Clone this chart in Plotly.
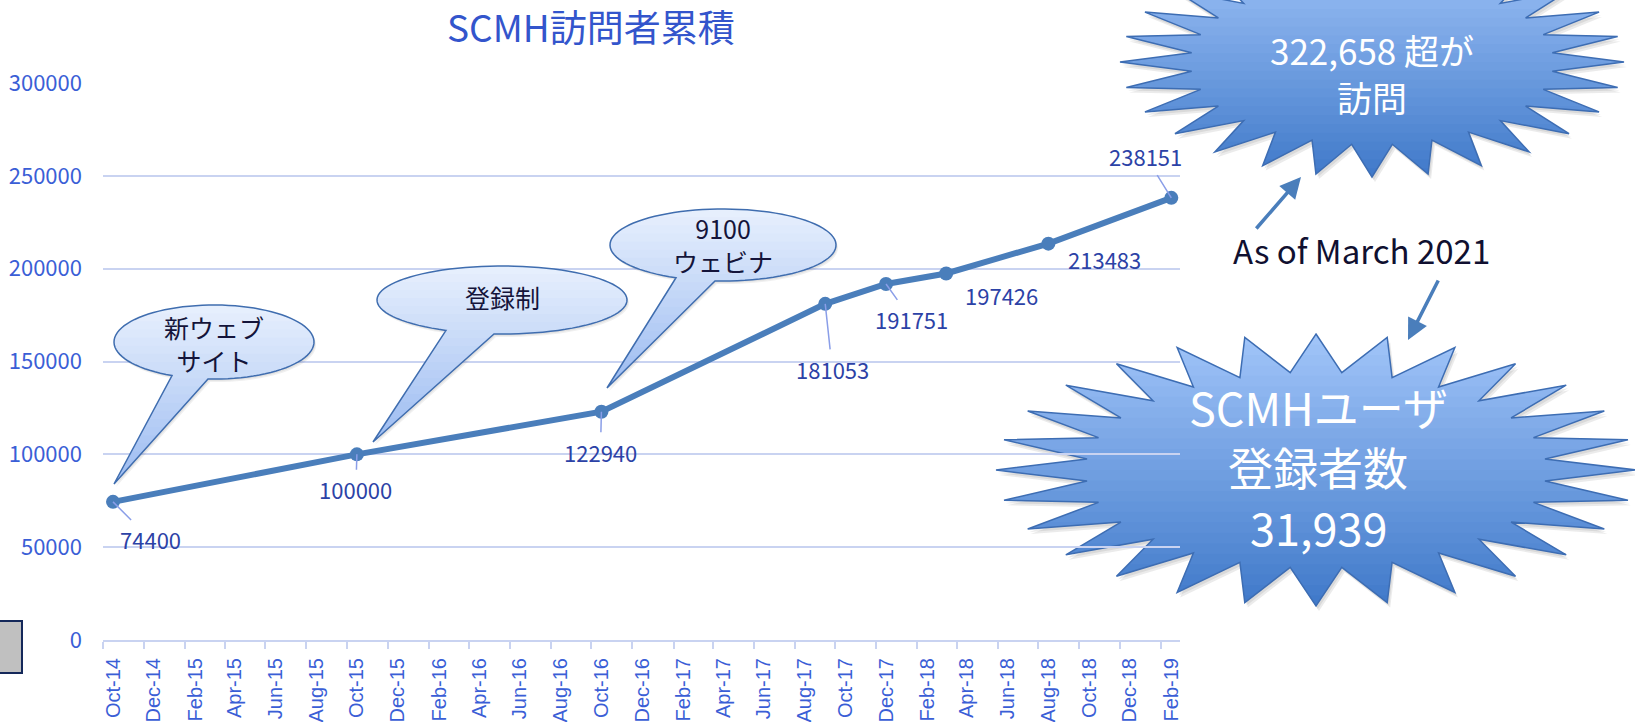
import numpy as np
import pandas as pd
import plotly.graph_objects as go

# ---------------- data ----------------
months = ["2014-10", "2015-10", "2016-10", "2017-09", "2017-12", "2018-03", "2018-08", "2019-02"]
visitors = [74400, 100000, 122940, 181053, 191751, 197426, 213483, 238151]
tick_labels = ["Oct-14", "Dec-14", "Feb-15", "Apr-15", "Jun-15", "Aug-15", "Oct-15", "Dec-15",
               "Feb-16", "Apr-16", "Jun-16", "Aug-16", "Oct-16", "Dec-16", "Feb-17", "Apr-17",
               "Jun-17", "Aug-17", "Oct-17", "Dec-17", "Feb-18", "Apr-18", "Jun-18", "Aug-18",
               "Oct-18", "Dec-18", "Feb-19"]
y_ticks = [0, 50000, 100000, 150000, 200000, 250000, 300000]
title_text = "SCMH訪問者累積"
callout_texts = ["新ウェブ<br>サイト", "登録制", "9100<br>ウェビナ"]
star_lines = [["322,658 超が", "訪問"], ["SCMHユーザ", "登録者数", "31,939"]]
note_text = "As of March 2021"

# ---------------- layout geometry (pixels) ----------------
FW, FH = 1635, 722
L, T, W, H = 103, 83, 1077, 557
FONT = "Noto Sans CJK JP"
TICK_C = "#3A5ED6"
LAB_C = "#2C42A6"
GRID_C = "#C9D3F1"
LINE_C = "#4A7EBB"


def px(x):
    return (x - L) / W


def py(y):
    return (T + H - y) / H


def path_of(pts):
    return "M " + " L ".join(f"{px(x):.5f},{py(y):.5f}" for x, y in pts) + " Z"


def clip_half(poly, keep, inter):
    out = []
    n = len(poly)
    for i in range(n):
        cur = poly[i]
        prev = poly[i - 1]
        if keep(cur):
            if not keep(prev):
                out.append(inter(prev, cur))
            out.append(cur)
        elif keep(prev):
            out.append(inter(prev, cur))
    return out


def clip_slab(poly, y0, y1):
    def inter_y(yc):
        def f(a, b):
            t = (yc - a[1]) / (b[1] - a[1])
            return (a[0] + t * (b[0] - a[0]), yc)
        return f
    p = clip_half(poly, lambda q: q[1] >= y0, inter_y(y0))
    if not p:
        return p
    return clip_half(p, lambda q: q[1] <= y1, inter_y(y1))


def hex2rgb(h):
    h = h.lstrip("#")
    return tuple(int(h[i:i + 2], 16) for i in (0, 2, 4))


def lerp(c1, c2, t):
    a, b = hex2rgb(c1), hex2rgb(c2)
    return "rgb(%d,%d,%d)" % tuple(round(a[i] + (b[i] - a[i]) * t) for i in range(3))


shapes = []


def gradient_shape(pts, c_top, c_bot, outline, lw, layer, bands=26, shadow=(3, 5, 0.10)):
    ys = [p[1] for p in pts]
    ymin, ymax = min(ys), max(ys)
    if shadow:
        dx, dy, a = shadow
        for f in (1.0, 0.6):
            sp = [(x + dx * f, y + dy * f) for x, y in pts]
            shapes.append(dict(type="path", xref="paper", yref="paper", path=path_of(sp),
                               fillcolor=f"rgba(60,60,60,{a})", line=dict(width=0), layer=layer))
    h = (ymax - ymin) / bands
    for i in range(bands):
        ya = ymin + i * h
        yb = ya + h + 0.9
        poly = clip_slab(pts, ya, yb)
        if len(poly) < 3:
            continue
        shapes.append(dict(type="path", xref="paper", yref="paper", path=path_of(poly),
                           fillcolor=lerp(c_top, c_bot, (i + 0.5) / bands),
                           line=dict(width=0), layer=layer))
    shapes.append(dict(type="path", xref="paper", yref="paper", path=path_of(pts),
                       fillcolor="rgba(0,0,0,0)", line=dict(color=outline, width=lw), layer=layer))


def star(cx, cy, rx, ry, n, inner):
    pts = []
    for k in range(2 * n):
        ang = -np.pi / 2 + k * np.pi / n
        r = 1.0 if k % 2 == 0 else inner
        pts.append((cx + rx * r * np.cos(ang), cy + ry * r * np.sin(ang)))
    return pts


def bubble(cx, cy, rx, ry, bx1, bx2, tip, n=90):
    th1 = np.arccos(np.clip((bx1 - cx) / rx, -1, 1))
    th2 = np.arccos(np.clip((bx2 - cx) / rx, -1, 1))
    ts = np.linspace(th1, th2 + 2 * np.pi, n)
    pts = [(cx + rx * np.cos(t), cy + ry * np.sin(t)) for t in ts]
    pts.append(tip)
    return pts


# starbursts (behind the grid)
gradient_shape(star(1372, 62, 252, 115, 28, 0.72), "#A2C5F9", "#3F79C9", "#3D6DB3", 1.5, "below")
gradient_shape(star(1316, 470, 320, 136, 28, 0.72), "#A2C5F9", "#3F79C9", "#3D6DB3", 1.5, "below")

# speech-bubble callouts
bubble_geo = [
    (214, 342, 100, 37, 172, 208, (114, 484)),
    (502, 300, 125, 34, 446, 494, (373, 442)),
    (723, 245, 113, 36, 676, 715, (607, 388)),
]
for g in bubble_geo:
    gradient_shape(bubble(*g), "#E8F0FD", "#9BBBF1", "#3F6DAF", 1.5, "above", bands=22,
                   shadow=(2, 3, 0.08))

# gray box at bottom-left
shapes.append(dict(type="rect", xref="paper", yref="paper", x0=px(-6), x1=px(22), y0=py(673), y1=py(621),
                   fillcolor="#C0C0C0", line=dict(color="#14285A", width=2), layer="above"))

# ---------------- figure ----------------
xdates = pd.to_datetime(months) + pd.Timedelta(days=15)
tickvals = pd.to_datetime(tick_labels, format="%b-%y") + pd.Timedelta(days=15)

fig = go.Figure()
fig.add_trace(go.Scatter(x=xdates, y=visitors, mode="lines+markers",
                         line=dict(color=LINE_C, width=6),
                         marker=dict(size=14, color=LINE_C), hoverinfo="x+y", showlegend=False))

annotations = []
label_pos = [(37, 37, True), (-1, 35, True), (-1, 40, True), (7, 65, True),
             (25, 35, True), (55, 22, False), (56, 15, False), (-26, -42, True)]
for xd, v, (dx, dy, lead) in zip(xdates, visitors, label_pos):
    if lead:
        annotations.append(dict(x=xd, y=v, xref="x", yref="y", text=str(v), showarrow=True,
                                ax=dx, ay=dy, arrowhead=0, arrowwidth=1.5, arrowcolor="#8A9EE8",
                                standoff=0, startstandoff=2,
                                font=dict(family=FONT, size=22, color=LAB_C)))
    else:
        annotations.append(dict(x=xd, y=v, xref="x", yref="y", text=str(v), showarrow=False,
                                xshift=dx, yshift=-dy,
                                font=dict(family=FONT, size=22, color=LAB_C)))

# title
annotations.append(dict(x=px(591), y=py(26), xref="paper", yref="paper", text=title_text,
                        showarrow=False, font=dict(family=FONT, size=37, color="#3355CC"),
                        xanchor="center", yanchor="middle"))
# callout texts
for (cx, cy), t in zip([(214, 343), (502, 297), (723, 244)], callout_texts):
    annotations.append(dict(x=px(cx), y=py(cy), xref="paper", yref="paper", text=t, showarrow=False,
                            font=dict(family=FONT, size=25, color="#14143A"),
                            xanchor="center", yanchor="middle"))
# starburst texts, one annotation per line
for (cx, ys, size), lines in zip([(1372, (49, 96), 35), (1318, (406, 466, 526), 45)], star_lines):
    for yy, t in zip(ys, lines):
        annotations.append(dict(x=px(cx), y=py(yy), xref="paper", yref="paper", text=t,
                                showarrow=False, font=dict(family=FONT, size=size, color="white"),
                                xanchor="center", yanchor="middle"))
# note + arrows
annotations.append(dict(x=px(1361), y=py(250), xref="paper", yref="paper", text=note_text,
                        showarrow=False, font=dict(family=FONT, size=33, color="#101030"),
                        xanchor="center", yanchor="middle"))
for (tx, ty), (sx, sy) in [((1301, 177), (1255, 230)), ((1408, 340), (1439, 279))]:
    annotations.append(dict(x=px(tx), y=py(ty), xref="paper", yref="paper", text="",
                            showarrow=True, ax=sx - tx, ay=sy - ty, arrowhead=2, arrowsize=1.2,
                            arrowwidth=3.5, arrowcolor=LINE_C, standoff=0))

fig.update_layout(
    width=FW, height=FH, autosize=False,
    margin=dict(l=L, r=FW - L - W, t=T, b=FH - T - H, pad=0, autoexpand=False),
    paper_bgcolor="white", plot_bgcolor="rgba(0,0,0,0)",
    shapes=shapes, annotations=annotations, showlegend=False,
    xaxis=dict(type="date", range=["2014-10-01", "2019-03-01"], automargin=False,
               tickmode="array", tickvals=tickvals, ticktext=tick_labels,
               tickangle=-90, ticks="", showgrid=False,
               showline=True, linecolor=GRID_C, linewidth=2,
               tickfont=dict(family="Liberation Sans", size=20, color=TICK_C),
               ticklabelstandoff=8,
               minor=dict(ticks="outside", ticklen=7, tickwidth=1.5, tickcolor=GRID_C,
                          tick0="2014-10-01", dtick="M2", showgrid=False)),
    yaxis=dict(range=[0, 300000], tickmode="array", tickvals=y_ticks, tickformat="d",
               automargin=False,
               showgrid=True, gridcolor=GRID_C, gridwidth=1.5, zeroline=False,
               ticks="", tickfont=dict(family=FONT, size=22, color=TICK_C),
               ticklabelstandoff=20),
)

fig.write_html("out.html", config={"displayModeBar": False},
               post_script="document.body.style.margin='0px';document.body.style.overflow='hidden';")
